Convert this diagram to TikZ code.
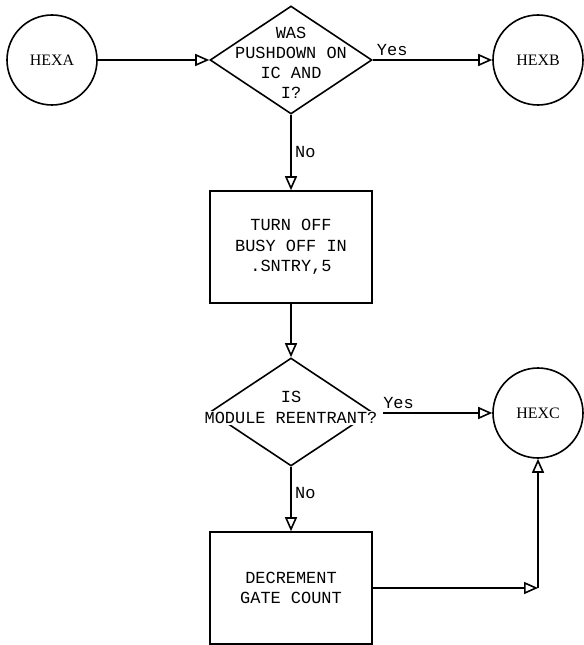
\documentclass[tikz,border=0pt]{standalone}
\usepackage{fontspec}
\setmainfont{Liberation Serif}
\setmonofont{Liberation Mono}
\usepackage{tikz}
\usetikzlibrary{shapes.geometric, arrows.meta}

\begin{document}
\begin{tikzpicture}[x=1bp, y=-1bp, line width=1.6bp,
    conn/.style={draw, circle, minimum size=90bp, inner sep=0pt, font=\fontsize{16}{18}\selectfont},
    decision/.style={draw, diamond, minimum width=162bp, minimum height=108bp, inner sep=0pt},
    task/.style={draw, rectangle, minimum width=162bp, minimum height=112bp, align=center, font=\ttfamily\fontsize{17}{20.5}\selectfont},
    tag/.style={font=\ttfamily\fontsize{17}{20}\selectfont},
    flow/.style={-{Triangle[open, length=14bp, width=12bp]}}]
    \useasboundingbox (0,0) rectangle (584,645);

    % top row
    \node[conn] (hexa) at (52,60) {HEXA};
    \node[decision, label={[name=q1txt, tag, align=center, yshift=-3bp]center:WAS\\PUSHDOWN ON\\IC AND\\I?}] (q1) at (291,60) {};
    \node[conn] (hexb) at (538,60) {HEXB};

    % middle column
    \node[task] (turnoff) at (291,247) {TURN OFF\\BUSY OFF IN\\.SNTRY,5};
    \node[decision, label={[tag, yshift=15bp]center:IS},
        label={[name=q2txt, tag, fill=white, inner sep=1bp, yshift=-6bp]center:MODULE REENTRANT?}] (q2) at (291,412) {};
    \node[task] (decr) at (291,588) {DECREMENT\\GATE COUNT};
    \node[conn] (hexc) at (538,413) {HEXC};
    \coordinate (bend) at (decr.east -| hexc.south);

    \draw[flow] (hexa) -- (q1);
    \draw[flow] (q1) -- node[tag, above right, pos=0]{Yes} (hexb);
    \draw[flow] (q1) -- node[tag, right, pos=0.5]{No} (turnoff);
    \draw[flow] (turnoff) -- (q2);
    \draw[flow, shorten <=4bp] (q2txt.east |- hexc.west) -- node[tag, above right, pos=0]{Yes} (hexc.west);
    \draw[flow] (q2) -- node[tag, right, pos=0.4]{No} (decr);
    \draw[flow] (decr) -- (bend);
    \draw[flow] (bend) -- (hexc);
\end{tikzpicture}
\end{document}
